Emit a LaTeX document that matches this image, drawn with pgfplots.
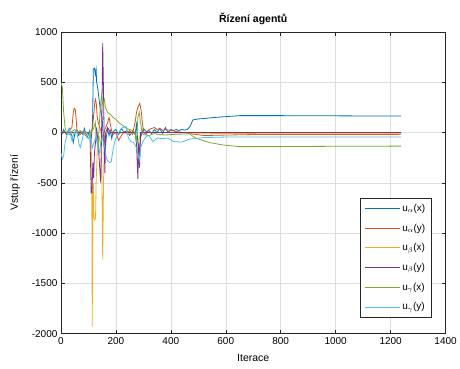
\documentclass[border=0pt]{standalone}
\usepackage{pgfplots}
\pgfplotsset{compat=1.18}
\usepackage{fontspec}
\setmainfont{Liberation Sans}
\definecolor{mA}{rgb}{0,0.447,0.741}
\definecolor{mB}{rgb}{0.850,0.325,0.098}
\definecolor{mC}{rgb}{0.929,0.694,0.125}
\definecolor{mD}{rgb}{0.494,0.184,0.556}
\definecolor{mE}{rgb}{0.466,0.674,0.188}
\definecolor{mF}{rgb}{0.301,0.745,0.933}
\definecolor{axc}{rgb}{0.15,0.15,0.15}
\begin{document}
\begin{tikzpicture}[x=1pt,y=1pt]
\path (0,0) rectangle (460,369);
\begin{axis}[
  at={(61pt,35pt)}, anchor=south west,
  scale only axis, width=385pt, height=302pt,
  xmin=0, xmax=1400, ymin=-2000, ymax=1000,
  xtick={0,200,...,1400}, ytick={-2000,-1500,...,1000},
  /pgf/number format/assume math mode=true,
  /pgf/number format/1000 sep={},
  tick label style={font=\fontsize{10}{12}\selectfont, text=black},
  label style={font=\fontsize{10.5}{12}\selectfont},
  title style={font=\bfseries\fontsize{10.5}{12}\selectfont, yshift=-2pt},
  title={Řízení agentů},
  xlabel={Iterace}, ylabel={Vstup řízení},
  xlabel style={yshift=-3pt},
  ylabel style={yshift=5pt},
  grid=major, major grid style={color=black!13, line width=0.5pt},
  axis line style={axc, line width=0.5pt},
  tick style={axc, line width=0.5pt},
  tick align=inside, major tick length=4pt,
  every axis plot/.append style={line width=0.8pt},
  legend style={at={(0.9636,0.053)}, anchor=south east,
    font=\fontsize{10}{12}\selectfont, draw=axc, line width=0.5pt,
    inner xsep=4pt, inner ysep=4pt, row sep=7pt},
  legend cell align=left,
  legend image code/.code={\draw[#1, line width=1pt] (0pt,0pt) -- (35pt,0pt);},
]
% u_alpha(x)
\addplot[mA] coordinates {(0,20)(5,-10)(10,30)(15,0)(20,-20)(25,10)(30,40)(35,-5)(40,-30)(45,-100)(50,-20)(55,20)(60,0)(65,-30)(70,10)(80,-20)(85,40)(90,-10)(95,-50)(100,-20)(105,20)(110,-80)(115,100)(118,630)(122,640)(125,580)(128,630)(130,500)(135,420)(140,300)(145,200)(150,150)(155,-100)(160,-200)(165,-50)(170,40)(175,-30)(180,20)(185,-60)(190,10)(200,30)(210,-20)(220,40)(230,0)(240,20)(250,-30)(260,10)(270,-20)(275,80)(280,-100)(285,-200)(290,-50)(295,0)(300,40)(310,10)(320,20)(330,-10)(340,30)(350,0)(360,40)(370,-10)(380,50)(390,0)(400,30)(410,20)(420,30)(430,20)(440,30)(450,25)(460,30)(470,60)(480,125)(500,135)(530,142)(560,150)(600,158)(650,168)(700,168)(800,168)(900,167)(1000,166)(1100,165)(1238,165)};
\addlegendentry{u$_\alpha$(x)}
% u_alpha(y)
\addplot[mB] coordinates {(0,0)(10,10)(20,-10)(30,20)(40,50)(45,200)(48,240)(52,230)(55,150)(58,30)(65,0)(70,-20)(80,10)(90,-30)(100,0)(110,-10)(115,50)(120,200)(123,300)(126,330)(129,280)(132,150)(136,100)(140,60)(145,20)(150,-50)(155,-20)(160,30)(170,100)(175,150)(180,80)(185,10)(190,-20)(200,0)(210,-80)(220,-30)(230,10)(240,-10)(250,20)(260,-20)(270,100)(275,200)(280,250)(287,290)(292,220)(297,80)(302,0)(310,-20)(320,30)(330,40)(340,50)(350,30)(360,40)(370,20)(380,30)(400,20)(420,10)(450,0)(480,-15)(520,-30)(600,-25)(700,-20)(800,-20)(1000,-20)(1238,-18)};
\addlegendentry{u$_\alpha$(y)}
% u_beta(x)
\addplot[mC] coordinates {(0,0)(20,5)(40,-5)(60,5)(80,0)(100,-5)(108,0)(112,-300)(114,-1930)(116,-600)(118,-500)(120,-850)(123,-870)(126,-850)(128,-500)(132,-200)(136,-100)(140,-50)(145,-100)(149,-400)(152,-1260)(155,-500)(158,-100)(162,0)(180,10)(200,0)(250,-10)(270,0)(278,-200)(282,-100)(290,0)(350,0)(450,-5)(600,-10)(800,-12)(1238,-12)};
\addlegendentry{u$_\beta$(x)}
% u_beta(y)
\addplot[mD] coordinates {(0,0)(50,0)(100,0)(106,-50)(110,-600)(113,-600)(116,-300)(119,-450)(122,-200)(126,-100)(130,50)(135,-100)(140,-300)(145,-500)(149,200)(152,890)(155,400)(158,-200)(160,-400)(163,0)(170,50)(180,0)(270,0)(275,-100)(280,-460)(283,-100)(286,-350)(290,0)(300,0)(1238,0)};
\addlegendentry{u$_\beta$(y)}
% u_gamma(x)
\addplot[mE] coordinates {(0,500)(5,450)(10,200)(15,50)(20,0)(30,-20)(40,10)(50,30)(60,0)(70,20)(80,-10)(90,10)(100,-20)(110,0)(120,50)(125,100)(130,-80)(135,-150)(140,100)(145,300)(148,370)(152,280)(158,330)(162,250)(170,200)(180,180)(190,150)(200,130)(210,100)(220,80)(230,60)(240,40)(250,30)(260,20)(270,0)(275,-100)(280,150)(285,200)(290,100)(295,0)(300,-20)(320,-30)(340,-10)(360,-20)(380,-25)(400,-20)(440,-15)(468,-14)(492,-57)(541,-100)(588,-123)(649,-140)(700,-140)(800,-140)(900,-138)(1000,-137)(1238,-135)};
\addlegendentry{u$_\gamma$(x)}
% u_gamma(y)
\addplot[mF] coordinates {(0,-200)(5,-260)(10,-230)(15,-100)(20,-50)(25,0)(30,30)(35,-20)(40,-80)(45,-20)(50,0)(55,20)(60,-30)(65,-100)(70,-150)(75,-100)(80,-40)(85,10)(90,-20)(100,-60)(105,-20)(110,-100)(115,-150)(120,-100)(125,-60)(130,-40)(135,-150)(140,-200)(145,-100)(150,-50)(155,-100)(160,-150)(165,-250)(170,-280)(178,-300)(183,-290)(188,-200)(195,-100)(205,-20)(215,20)(225,50)(237,60)(245,-50)(255,-90)(265,-100)(275,-150)(280,-200)(285,-280)(290,-150)(300,-80)(310,-40)(320,-30)(335,-90)(350,-55)(370,-60)(390,-55)(410,-90)(440,-95)(468,-65)(490,-60)(520,-50)(600,-45)(700,-45)(800,-45)(1000,-44)(1238,-44)};
\addlegendentry{u$_\gamma$(y)}
\end{axis}
\end{tikzpicture}
\end{document}
